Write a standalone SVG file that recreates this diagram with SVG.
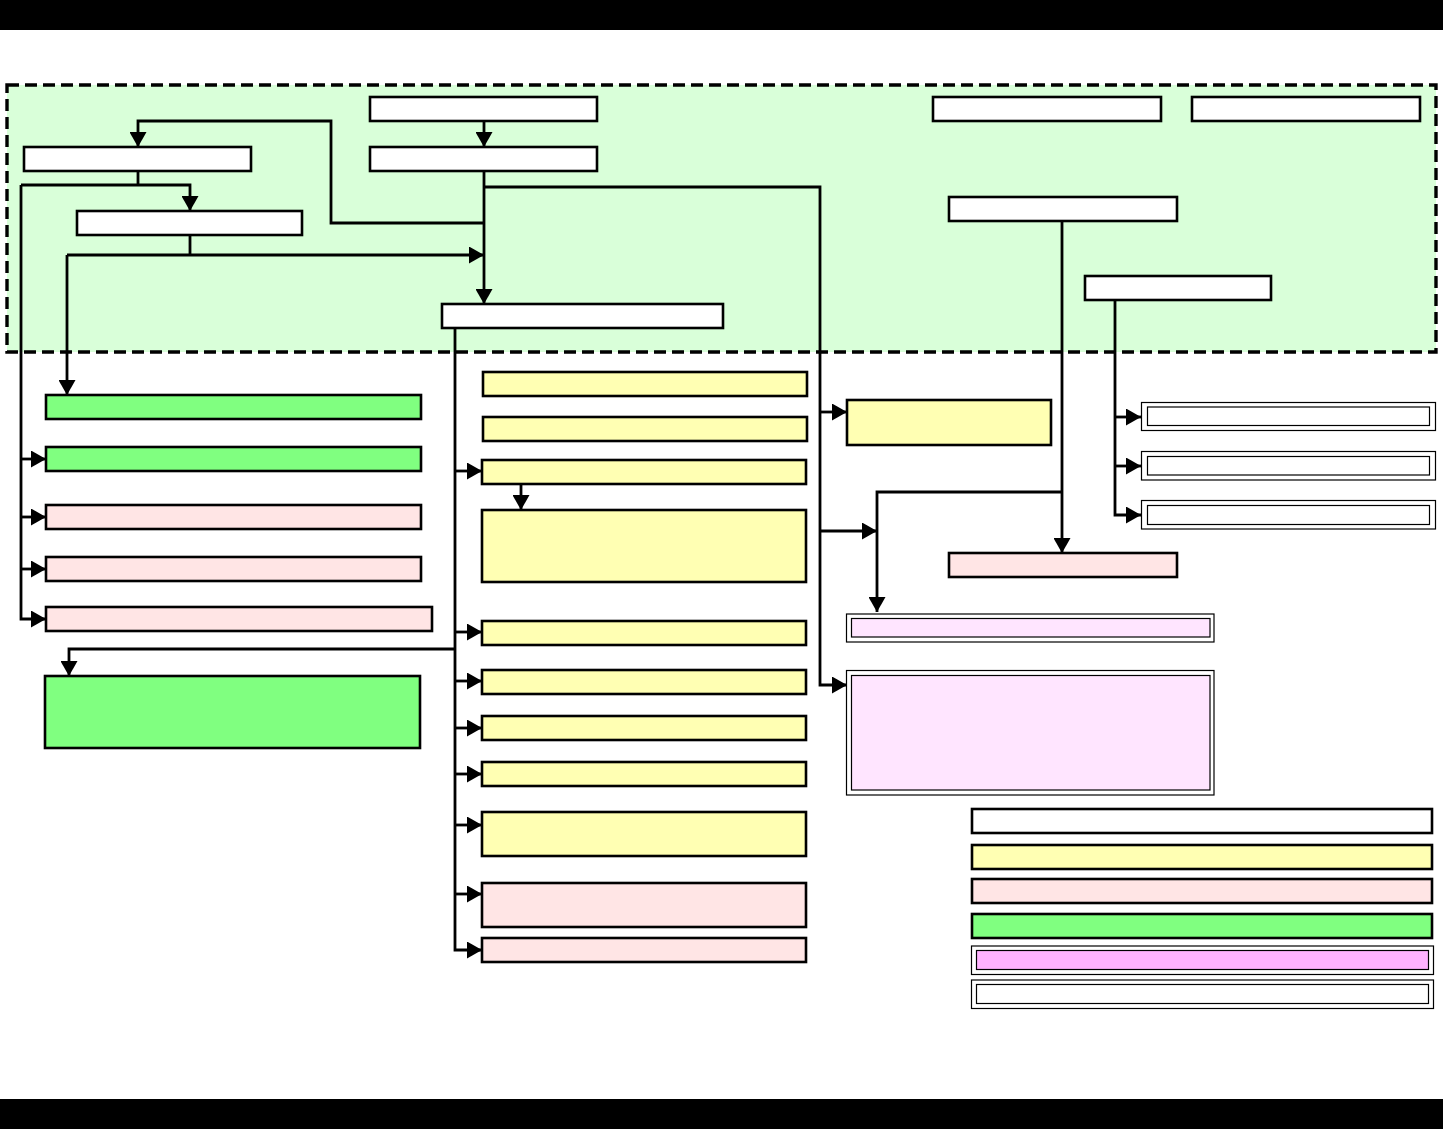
<svg xmlns="http://www.w3.org/2000/svg" width="1443" height="1129" viewBox="0 0 1443 1129">
<style>
.n{stroke:#000;stroke-width:2.6}
.d{stroke:#000;stroke-width:1.2}
.w{fill:#fff}.y{fill:#ffffb3}.p{fill:#ffe5e5}.g{fill:#80ff80}.l{fill:#ffe5ff}.m{fill:#ffb3ff}
.c{fill:none;stroke:#000;stroke-width:2.8}
.a{marker-end:url(#ah)}
</style>
<defs>
<marker id="ah" markerUnits="userSpaceOnUse" markerWidth="16" markerHeight="17" refX="15" refY="8.5" orient="auto">
<path d="M0,0 L15,8.5 L0,17 Z" fill="#000"/>
</marker>
</defs>
<rect x="0" y="0" width="1443" height="1129" fill="#fff"/>
<rect x="0" y="0" width="1443" height="30" fill="#000"/>
<rect x="0" y="1099" width="1443" height="30" fill="#000"/>
<rect id="region" x="7" y="85" width="1429" height="267" fill="#d9ffd9" stroke="#000" stroke-width="3.4" stroke-dasharray="12,6"/>
<g id="connectors">
<path class="c a" d="M484,121 V147"/>
<path class="c a" d="M484,171 V304"/>
<path class="c a" d="M484,223 H331 V121 H138 V147"/>
<path class="c" d="M138,171 V185"/>
<path class="c a" d="M21,185 H190 V211"/>
<path class="c a" d="M21,185 V619 H46"/>
<path class="c a" d="M21,459 H46"/>
<path class="c a" d="M21,517 H46"/>
<path class="c a" d="M21,569 H46"/>
<path class="c" d="M190,235 V255"/>
<path class="c a" d="M67,255 H484"/>
<path class="c a" d="M67,255 V395"/>
<path class="c a" d="M484,187 H820 V685 H847"/>
<path class="c a" d="M820,412 H847"/>
<path class="c a" d="M820,531 H877"/>
<path class="c a" d="M1062,221 V553"/>
<path class="c a" d="M1062,492 H877 V612"/>
<path class="c a" d="M1115,300 V515 H1141"/>
<path class="c a" d="M1115,417 H1141"/>
<path class="c a" d="M1115,466 H1141"/>
<path class="c a" d="M455,328 V950 H482"/>
<path class="c a" d="M455,471 H482"/>
<path class="c a" d="M455,632 H482"/>
<path class="c a" d="M455,681 H482"/>
<path class="c a" d="M455,728 H482"/>
<path class="c a" d="M455,774 H482"/>
<path class="c a" d="M455,825 H482"/>
<path class="c a" d="M455,894 H482"/>
<path class="c a" d="M455,649 H69 V676"/>
<path class="c a" d="M521,484 V510"/>
</g>
<g id="nA"><rect class="n w" x="370" y="97" width="227" height="24"/></g>
<g id="nB"><rect class="n w" x="370" y="147" width="227" height="24"/></g>
<g id="nC"><rect class="n w" x="24" y="147" width="227" height="24"/></g>
<g id="nD"><rect class="n w" x="77" y="211" width="225" height="24"/></g>
<g id="nE"><rect class="n w" x="442" y="304" width="281" height="24"/></g>
<g id="nF"><rect class="n w" x="933" y="97" width="228" height="24"/></g>
<g id="nG"><rect class="n w" x="1192" y="97" width="228" height="24"/></g>
<g id="nH"><rect class="n w" x="949" y="197" width="228" height="24"/></g>
<g id="nI"><rect class="n w" x="1085" y="276" width="186" height="24"/></g>
<g id="g1"><rect class="n g" x="46" y="395" width="375" height="24"/></g>
<g id="g2"><rect class="n g" x="46" y="447" width="375" height="24"/></g>
<g id="p1"><rect class="n p" x="46" y="505" width="375" height="24"/></g>
<g id="p2"><rect class="n p" x="46" y="557" width="375" height="24"/></g>
<g id="p3"><rect class="n p" x="46" y="607" width="386" height="24"/></g>
<g id="g3"><rect class="n g" x="45" y="676" width="375" height="72"/></g>
<g id="y1"><rect class="n y" x="483" y="372" width="324" height="24"/></g>
<g id="y2"><rect class="n y" x="483" y="417" width="324" height="24"/></g>
<g id="y3"><rect class="n y" x="482" y="460" width="324" height="24"/></g>
<g id="y4"><rect class="n y" x="482" y="510" width="324" height="72"/></g>
<g id="y5"><rect class="n y" x="482" y="621" width="324" height="24"/></g>
<g id="y6"><rect class="n y" x="482" y="670" width="324" height="24"/></g>
<g id="y7"><rect class="n y" x="482" y="716" width="324" height="24"/></g>
<g id="y8"><rect class="n y" x="482" y="762" width="324" height="24"/></g>
<g id="y9"><rect class="n y" x="482" y="812" width="324" height="44"/></g>
<g id="p4"><rect class="n p" x="482" y="883" width="324" height="44"/></g>
<g id="p5"><rect class="n p" x="482" y="938" width="324" height="24"/></g>
<g id="yr"><rect class="n y" x="847" y="400" width="204" height="45"/></g>
<g id="ph"><rect class="n p" x="949" y="553" width="228" height="24"/></g>
<g id="r1"><rect class="d w" x="1141.5" y="402.5" width="294" height="28"/><rect class="d w" x="1147.5" y="407" width="282" height="18.5"/></g>
<g id="r2"><rect class="d w" x="1141.5" y="451.5" width="294" height="28.5"/><rect class="d w" x="1147.5" y="456.5" width="282" height="18.5"/></g>
<g id="r3"><rect class="d w" x="1141.5" y="500.5" width="294" height="28.5"/><rect class="d w" x="1147.5" y="505.5" width="282" height="19"/></g>
<g id="l1"><rect class="d w" x="846.5" y="614" width="367.5" height="28"/><rect class="d l" x="851.5" y="618.5" width="358.5" height="18.5"/></g>
<g id="l2"><rect class="d w" x="846.5" y="670.5" width="367.5" height="124.5"/><rect class="d l" x="851.5" y="675.5" width="358.5" height="114.5"/></g>
<g id="legend">
<rect class="n w" x="972" y="809" width="460" height="24"/>
<rect class="n y" x="972" y="845" width="460" height="24"/>
<rect class="n p" x="972" y="879" width="460" height="24"/>
<rect class="n g" x="972" y="914" width="460" height="24"/>
<rect class="d w" x="971.5" y="946" width="462" height="28.5"/><rect class="d m" x="976.5" y="950.5" width="452" height="19"/>
<rect class="d w" x="971.5" y="980" width="462" height="28.5"/><rect class="d w" x="976.5" y="984.5" width="452" height="19"/>
</g>
</svg>
